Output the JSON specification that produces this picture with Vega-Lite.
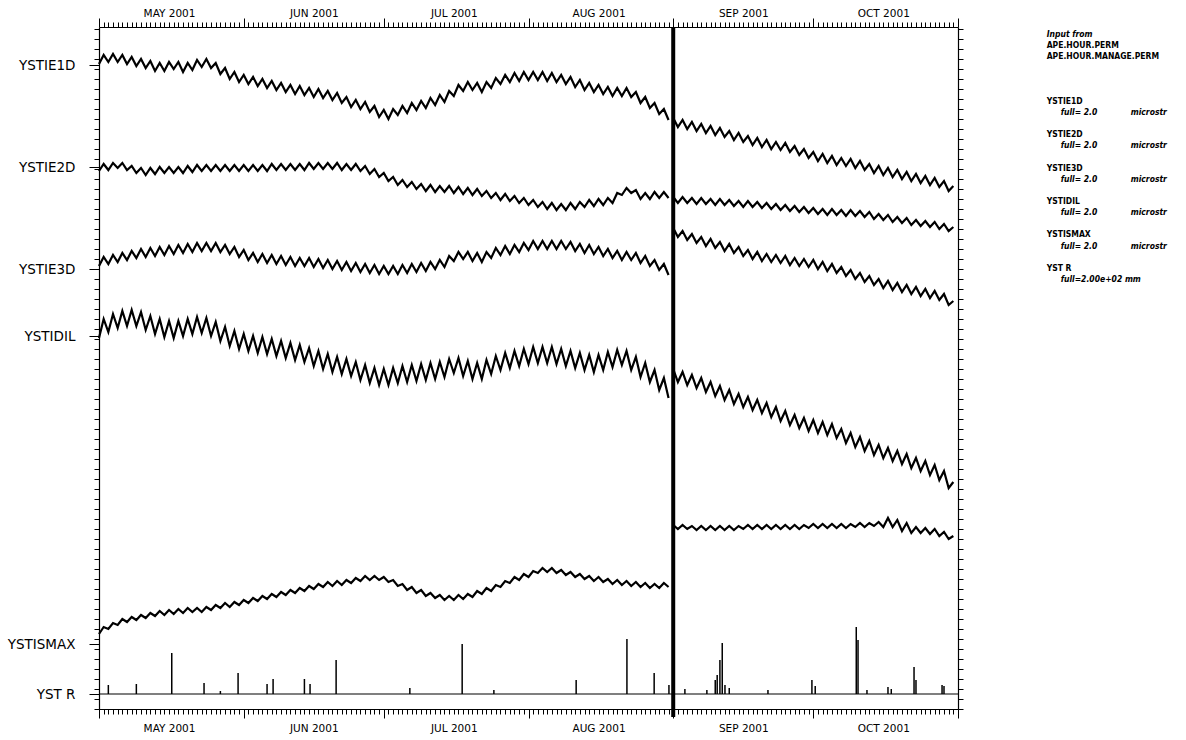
{
"$schema":"https://vega.github.io/schema/vega-lite/v6.json",
"width":859,"height":682,
"autosize":{"type":"none"},
"padding":{"left":99,"top":27,"right":228,"bottom":31},
"background":"white",
"data":{"values":[{}]},
"config":{"view":{"stroke":null},"axis":{"domainColor":"black","tickColor":"black","labelColor":"black","grid":false,"title":null,"labelFont":"DejaVu Sans","domainWidth":1.2,"tickWidth":1},
"text":{"font":"'DejaVu Sans Condensed', 'Liberation Sans Narrow', 'DejaVu Sans'","fontSize":8.5,"fontWeight":"bold","align":"left","baseline":"alphabetic","color":"black","lineHeight":11.13}},
"datasets":{
"tr":[
{"t":"2001/05/01","g":"L","a":64.5,"b":53.8,"c":44.3,"d":37.1,"e":7.5},
{"t":"2001/05/02","g":"L","a":65.4,"b":54.5,"c":45.2,"d":39.0,"e":8.2},
{"t":"2001/05/03","g":"L","a":64.7,"b":53.9,"c":44.5,"d":37.7,"e":8.0},
{"t":"2001/05/04","g":"L","a":65.5,"b":54.6,"c":45.4,"d":39.5,"e":8.6},
{"t":"2001/05/05","g":"L","a":64.7,"b":54.1,"c":44.7,"d":38.1,"e":8.4},
{"t":"2001/05/06","g":"L","a":65.4,"b":54.6,"c":45.6,"d":39.8,"e":9.0},
{"t":"2001/05/07","g":"L","a":64.5,"b":53.9,"c":44.9,"d":38.3,"e":8.7},
{"t":"2001/05/08","g":"L","a":65.2,"b":54.3,"c":45.8,"d":39.9,"e":9.2},
{"t":"2001/05/09","g":"L","a":64.3,"b":53.6,"c":45.1,"d":38.3,"e":8.9},
{"t":"2001/05/10","g":"L","a":65.0,"b":54.1,"c":46.0,"d":39.7,"e":9.4},
{"t":"2001/05/11","g":"L","a":64.1,"b":53.4,"c":45.2,"d":37.9,"e":9.1},
{"t":"2001/05/12","g":"L","a":64.8,"b":54.1,"c":46.1,"d":39.3,"e":9.6},
{"t":"2001/05/13","g":"L","a":63.8,"b":53.5,"c":45.3,"d":37.5,"e":9.3},
{"t":"2001/05/14","g":"L","a":64.6,"b":54.2,"c":46.2,"d":39.0,"e":9.8},
{"t":"2001/05/15","g":"L","a":63.8,"b":53.6,"c":45.4,"d":37.2,"e":9.4},
{"t":"2001/05/16","g":"L","a":64.7,"b":54.2,"c":46.3,"d":38.8,"e":9.9},
{"t":"2001/05/17","g":"L","a":64.0,"b":53.6,"c":45.5,"d":37.1,"e":9.5},
{"t":"2001/05/18","g":"L","a":64.7,"b":54.2,"c":46.4,"d":38.8,"e":10.0},
{"t":"2001/05/19","g":"L","a":63.7,"b":53.6,"c":45.6,"d":37.3,"e":9.6},
{"t":"2001/05/20","g":"L","a":64.6,"b":54.3,"c":46.5,"d":39.0,"e":10.1},
{"t":"2001/05/21","g":"L","a":63.9,"b":53.7,"c":45.7,"d":37.5,"e":9.7},
{"t":"2001/05/22","g":"L","a":64.9,"b":54.4,"c":46.6,"d":39.2,"e":10.1},
{"t":"2001/05/23","g":"L","a":64.2,"b":53.8,"c":45.8,"d":37.6,"e":9.7},
{"t":"2001/05/24","g":"L","a":65.0,"b":54.4,"c":46.6,"d":39.1,"e":10.2},
{"t":"2001/05/25","g":"L","a":64.1,"b":53.8,"c":45.8,"d":37.3,"e":9.9},
{"t":"2001/05/26","g":"L","a":64.6,"b":54.4,"c":46.6,"d":38.7,"e":10.4},
{"t":"2001/05/27","g":"L","a":63.5,"b":53.8,"c":45.7,"d":36.8,"e":10.1},
{"t":"2001/05/28","g":"L","a":64.1,"b":54.4,"c":46.4,"d":38.2,"e":10.6},
{"t":"2001/05/29","g":"L","a":63.0,"b":53.8,"c":45.5,"d":36.3,"e":10.2},
{"t":"2001/05/30","g":"L","a":63.7,"b":54.4,"c":46.2,"d":37.8,"e":10.7},
{"t":"2001/05/31","g":"L","a":62.7,"b":53.8,"c":45.2,"d":36.0,"e":10.4},
{"t":"2001/06/01","g":"L","a":63.4,"b":54.4,"c":45.9,"d":37.5,"e":10.9},
{"t":"2001/06/02","g":"L","a":62.5,"b":53.8,"c":44.9,"d":35.8,"e":10.6},
{"t":"2001/06/03","g":"L","a":63.2,"b":54.4,"c":45.6,"d":37.3,"e":11.1},
{"t":"2001/06/04","g":"L","a":62.3,"b":53.8,"c":44.7,"d":35.6,"e":10.8},
{"t":"2001/06/05","g":"L","a":63.0,"b":54.4,"c":45.5,"d":37.2,"e":11.3},
{"t":"2001/06/06","g":"L","a":62.1,"b":53.8,"c":44.6,"d":35.5,"e":11.0},
{"t":"2001/06/07","g":"L","a":62.8,"b":54.5,"c":45.4,"d":37.0,"e":11.5},
{"t":"2001/06/08","g":"L","a":61.9,"b":53.9,"c":44.5,"d":35.3,"e":11.2},
{"t":"2001/06/09","g":"L","a":62.6,"b":54.5,"c":45.3,"d":36.8,"e":11.7},
{"t":"2001/06/10","g":"L","a":61.7,"b":53.9,"c":44.4,"d":35.1,"e":11.4},
{"t":"2001/06/11","g":"L","a":62.4,"b":54.5,"c":45.2,"d":36.6,"e":11.9},
{"t":"2001/06/12","g":"L","a":61.5,"b":53.9,"c":44.3,"d":34.9,"e":11.6},
{"t":"2001/06/13","g":"L","a":62.3,"b":54.5,"c":45.1,"d":36.4,"e":12.1},
{"t":"2001/06/14","g":"L","a":61.4,"b":53.9,"c":44.3,"d":34.7,"e":11.8},
{"t":"2001/06/15","g":"L","a":62.1,"b":54.6,"c":45.1,"d":36.1,"e":12.3},
{"t":"2001/06/16","g":"L","a":61.2,"b":54.0,"c":44.2,"d":34.3,"e":12.0},
{"t":"2001/06/17","g":"L","a":62.0,"b":54.6,"c":45.0,"d":35.8,"e":12.5},
{"t":"2001/06/18","g":"L","a":61.1,"b":54.0,"c":44.1,"d":34.0,"e":12.2},
{"t":"2001/06/19","g":"L","a":61.8,"b":54.6,"c":44.9,"d":35.5,"e":12.7},
{"t":"2001/06/20","g":"L","a":60.9,"b":54.0,"c":44.0,"d":33.7,"e":12.3},
{"t":"2001/06/21","g":"L","a":61.6,"b":54.6,"c":44.8,"d":35.2,"e":12.8},
{"t":"2001/06/22","g":"L","a":60.6,"b":53.9,"c":43.9,"d":33.5,"e":12.4},
{"t":"2001/06/23","g":"L","a":61.2,"b":54.5,"c":44.7,"d":35.0,"e":12.9},
{"t":"2001/06/24","g":"L","a":60.2,"b":53.9,"c":43.8,"d":33.3,"e":12.6},
{"t":"2001/06/25","g":"L","a":60.9,"b":54.5,"c":44.6,"d":34.7,"e":13.1},
{"t":"2001/06/26","g":"L","a":60.0,"b":53.8,"c":43.7,"d":32.9,"e":12.8},
{"t":"2001/06/27","g":"L","a":60.7,"b":54.3,"c":44.5,"d":34.4,"e":13.3},
{"t":"2001/06/28","g":"L","a":59.7,"b":53.5,"c":43.6,"d":32.6,"e":12.9},
{"t":"2001/06/29","g":"L","a":60.3,"b":54.0,"c":44.4,"d":34.1,"e":13.3},
{"t":"2001/06/30","g":"L","a":59.2,"b":53.2,"c":43.5,"d":32.4,"e":12.9},
{"t":"2001/07/01","g":"L","a":59.9,"b":53.6,"c":44.3,"d":34.0,"e":13.2},
{"t":"2001/07/02","g":"L","a":59.0,"b":52.8,"c":43.5,"d":32.4,"e":12.7},
{"t":"2001/07/03","g":"L","a":60.0,"b":53.2,"c":44.3,"d":34.1,"e":12.9},
{"t":"2001/07/04","g":"L","a":59.4,"b":52.4,"c":43.5,"d":32.6,"e":12.3},
{"t":"2001/07/05","g":"L","a":60.3,"b":52.9,"c":44.4,"d":34.3,"e":12.5},
{"t":"2001/07/06","g":"L","a":59.6,"b":52.2,"c":43.6,"d":32.7,"e":11.9},
{"t":"2001/07/07","g":"L","a":60.6,"b":52.7,"c":44.5,"d":34.4,"e":12.2},
{"t":"2001/07/08","g":"L","a":59.9,"b":52.0,"c":43.7,"d":32.8,"e":11.6},
{"t":"2001/07/09","g":"L","a":60.8,"b":52.5,"c":44.6,"d":34.5,"e":11.9},
{"t":"2001/07/10","g":"L","a":60.1,"b":51.8,"c":43.8,"d":32.9,"e":11.3},
{"t":"2001/07/11","g":"L","a":61.1,"b":52.4,"c":44.7,"d":34.6,"e":11.6},
{"t":"2001/07/12","g":"L","a":60.4,"b":51.7,"c":44.0,"d":33.0,"e":11.1},
{"t":"2001/07/13","g":"L","a":61.4,"b":52.3,"c":44.9,"d":34.7,"e":11.4},
{"t":"2001/07/14","g":"L","a":60.7,"b":51.7,"c":44.2,"d":33.2,"e":10.9},
{"t":"2001/07/15","g":"L","a":61.8,"b":52.3,"c":45.3,"d":35.0,"e":11.3},
{"t":"2001/07/16","g":"L","a":61.3,"b":51.6,"c":44.8,"d":33.6,"e":10.9},
{"t":"2001/07/17","g":"L","a":62.4,"b":52.2,"c":45.7,"d":35.1,"e":11.4},
{"t":"2001/07/18","g":"L","a":61.8,"b":51.5,"c":45.0,"d":33.3,"e":11.0},
{"t":"2001/07/19","g":"L","a":62.7,"b":52.1,"c":45.7,"d":34.8,"e":11.5},
{"t":"2001/07/20","g":"L","a":61.9,"b":51.4,"c":44.8,"d":33.0,"e":11.2},
{"t":"2001/07/21","g":"L","a":62.6,"b":52.0,"c":45.6,"d":34.6,"e":11.8},
{"t":"2001/07/22","g":"L","a":61.7,"b":51.3,"c":44.7,"d":33.0,"e":11.5},
{"t":"2001/07/23","g":"L","a":62.7,"b":51.8,"c":45.7,"d":34.9,"e":12.1},
{"t":"2001/07/24","g":"L","a":62.1,"b":51.1,"c":45.1,"d":33.5,"e":11.8},
{"t":"2001/07/25","g":"L","a":63.1,"b":51.6,"c":46.1,"d":35.3,"e":12.4},
{"t":"2001/07/26","g":"L","a":62.5,"b":50.9,"c":45.4,"d":33.9,"e":12.2},
{"t":"2001/07/27","g":"L","a":63.4,"b":51.5,"c":46.3,"d":35.6,"e":12.8},
{"t":"2001/07/28","g":"L","a":62.7,"b":50.8,"c":45.5,"d":34.1,"e":12.6},
{"t":"2001/07/29","g":"L","a":63.6,"b":51.3,"c":46.4,"d":35.8,"e":13.2},
{"t":"2001/07/30","g":"L","a":62.8,"b":50.6,"c":45.7,"d":34.3,"e":12.9},
{"t":"2001/07/31","g":"L","a":63.7,"b":51.1,"c":46.6,"d":36.0,"e":13.5},
{"t":"2001/08/01","g":"L","a":62.9,"b":50.4,"c":45.9,"d":34.5,"e":13.2},
{"t":"2001/08/02","g":"L","a":63.7,"b":50.9,"c":46.8,"d":36.2,"e":13.8},
{"t":"2001/08/03","g":"L","a":62.9,"b":50.2,"c":46.0,"d":34.6,"e":13.6},
{"t":"2001/08/04","g":"L","a":63.7,"b":50.7,"c":46.8,"d":36.2,"e":14.1},
{"t":"2001/08/05","g":"L","a":62.8,"b":50.0,"c":46.0,"d":34.6,"e":13.7},
{"t":"2001/08/06","g":"L","a":63.6,"b":50.6,"c":46.8,"d":36.2,"e":14.1},
{"t":"2001/08/07","g":"L","a":62.7,"b":49.9,"c":46.0,"d":34.5,"e":13.6},
{"t":"2001/08/08","g":"L","a":63.4,"b":50.5,"c":46.8,"d":36.0,"e":13.9},
{"t":"2001/08/09","g":"L","a":62.5,"b":49.9,"c":46.0,"d":34.3,"e":13.4},
{"t":"2001/08/10","g":"L","a":63.2,"b":50.6,"c":46.7,"d":35.8,"e":13.7},
{"t":"2001/08/11","g":"L","a":62.2,"b":50.0,"c":45.8,"d":34.1,"e":13.2},
{"t":"2001/08/12","g":"L","a":62.9,"b":50.7,"c":46.5,"d":35.6,"e":13.5},
{"t":"2001/08/13","g":"L","a":61.9,"b":50.2,"c":45.6,"d":33.9,"e":13.0},
{"t":"2001/08/14","g":"L","a":62.6,"b":50.9,"c":46.4,"d":35.4,"e":13.3},
{"t":"2001/08/15","g":"L","a":61.7,"b":50.3,"c":45.5,"d":33.7,"e":12.8},
{"t":"2001/08/16","g":"L","a":62.4,"b":51.0,"c":46.2,"d":35.4,"e":13.2},
{"t":"2001/08/17","g":"L","a":61.5,"b":50.4,"c":45.3,"d":33.9,"e":12.7},
{"t":"2001/08/18","g":"L","a":62.2,"b":51.1,"c":46.0,"d":35.7,"e":13.0},
{"t":"2001/08/19","g":"L","a":61.3,"b":50.6,"c":45.1,"d":34.2,"e":12.5},
{"t":"2001/08/20","g":"L","a":62.1,"b":51.6,"c":45.8,"d":35.9,"e":12.9},
{"t":"2001/08/21","g":"L","a":61.3,"b":51.4,"c":44.9,"d":34.4,"e":12.4},
{"t":"2001/08/22","g":"L","a":62.1,"b":52.1,"c":45.7,"d":35.8,"e":12.8},
{"t":"2001/08/23","g":"L","a":61.2,"b":51.6,"c":44.9,"d":33.9,"e":12.3},
{"t":"2001/08/24","g":"L","a":61.7,"b":51.9,"c":45.6,"d":35.2,"e":12.7},
{"t":"2001/08/25","g":"L","a":60.6,"b":51.0,"c":44.6,"d":33.2,"e":12.2},
{"t":"2001/08/26","g":"L","a":61.2,"b":51.6,"c":45.3,"d":34.6,"e":12.6},
{"t":"2001/08/27","g":"L","a":60.1,"b":51.0,"c":44.3,"d":32.7,"e":12.1},
{"t":"2001/08/28","g":"L","a":60.6,"b":51.7,"c":44.9,"d":33.9,"e":12.5},
{"t":"2001/08/29","g":"L","a":59.5,"b":51.1,"c":43.9,"d":31.9,"e":12.1},
{"t":"2001/08/30","g":"L","a":60.0,"b":51.7,"c":44.5,"d":33.1,"e":12.6},
{"t":"2001/08/31","g":"L","a":58.9,"b":51.1,"c":43.4,"d":31.1,"e":12.2},
{"t":"2001/09/01","g":"R","a":59.1,"b":51.2,"c":48.1,"d":34.0,"e":18.4},
{"t":"2001/09/02","g":"R","a":58.2,"b":50.6,"c":47.2,"d":32.7,"e":18.0},
{"t":"2001/09/03","g":"R","a":58.9,"b":51.2,"c":47.8,"d":33.7,"e":18.4},
{"t":"2001/09/04","g":"R","a":58.0,"b":50.6,"c":46.9,"d":32.4,"e":18.0},
{"t":"2001/09/05","g":"R","a":58.7,"b":51.1,"c":47.5,"d":33.4,"e":18.3},
{"t":"2001/09/06","g":"R","a":57.8,"b":50.5,"c":46.6,"d":32.1,"e":17.9},
{"t":"2001/09/07","g":"R","a":58.5,"b":51.1,"c":47.2,"d":33.1,"e":18.3},
{"t":"2001/09/08","g":"R","a":57.6,"b":50.5,"c":46.3,"d":31.7,"e":17.9},
{"t":"2001/09/09","g":"R","a":58.3,"b":51.0,"c":47.0,"d":32.7,"e":18.3},
{"t":"2001/09/10","g":"R","a":57.4,"b":50.4,"c":46.1,"d":31.3,"e":17.9},
{"t":"2001/09/11","g":"R","a":58.1,"b":51.0,"c":46.7,"d":32.3,"e":18.3},
{"t":"2001/09/12","g":"R","a":57.2,"b":50.4,"c":45.8,"d":30.9,"e":17.9},
{"t":"2001/09/13","g":"R","a":57.8,"b":50.9,"c":46.5,"d":31.9,"e":18.3},
{"t":"2001/09/14","g":"R","a":56.9,"b":50.3,"c":45.6,"d":30.5,"e":17.9},
{"t":"2001/09/15","g":"R","a":57.6,"b":50.8,"c":46.2,"d":31.5,"e":18.3},
{"t":"2001/09/16","g":"R","a":56.7,"b":50.2,"c":45.3,"d":30.2,"e":18.0},
{"t":"2001/09/17","g":"R","a":57.3,"b":50.8,"c":45.9,"d":31.2,"e":18.4},
{"t":"2001/09/18","g":"R","a":56.4,"b":50.2,"c":45.0,"d":29.9,"e":18.0},
{"t":"2001/09/19","g":"R","a":57.1,"b":50.7,"c":45.7,"d":30.9,"e":18.4},
{"t":"2001/09/20","g":"R","a":56.2,"b":50.1,"c":44.8,"d":29.6,"e":18.0},
{"t":"2001/09/21","g":"R","a":56.9,"b":50.6,"c":45.5,"d":30.6,"e":18.4},
{"t":"2001/09/22","g":"R","a":56.0,"b":50.0,"c":44.7,"d":29.2,"e":18.0},
{"t":"2001/09/23","g":"R","a":56.7,"b":50.5,"c":45.4,"d":30.2,"e":18.4},
{"t":"2001/09/24","g":"R","a":55.9,"b":49.9,"c":44.6,"d":28.8,"e":18.0},
{"t":"2001/09/25","g":"R","a":56.6,"b":50.4,"c":45.3,"d":29.8,"e":18.4},
{"t":"2001/09/26","g":"R","a":55.7,"b":49.8,"c":44.4,"d":28.4,"e":18.0},
{"t":"2001/09/27","g":"R","a":56.3,"b":50.3,"c":45.1,"d":29.4,"e":18.4},
{"t":"2001/09/28","g":"R","a":55.4,"b":49.7,"c":44.3,"d":28.1,"e":18.0},
{"t":"2001/09/29","g":"R","a":56.0,"b":50.2,"c":45.0,"d":29.1,"e":18.4},
{"t":"2001/09/30","g":"R","a":55.1,"b":49.6,"c":44.2,"d":27.8,"e":18.1},
{"t":"2001/10/01","g":"R","a":55.7,"b":50.1,"c":44.9,"d":28.9,"e":18.5},
{"t":"2001/10/02","g":"R","a":54.8,"b":49.5,"c":44.0,"d":27.6,"e":18.1},
{"t":"2001/10/03","g":"R","a":55.5,"b":50.0,"c":44.7,"d":28.7,"e":18.5},
{"t":"2001/10/04","g":"R","a":54.6,"b":49.4,"c":43.8,"d":27.4,"e":18.1},
{"t":"2001/10/05","g":"R","a":55.3,"b":50.0,"c":44.5,"d":28.5,"e":18.5},
{"t":"2001/10/06","g":"R","a":54.4,"b":49.4,"c":43.6,"d":27.1,"e":18.1},
{"t":"2001/10/07","g":"R","a":55.1,"b":49.9,"c":44.2,"d":28.0,"e":18.5},
{"t":"2001/10/08","g":"R","a":54.3,"b":49.3,"c":43.3,"d":26.6,"e":18.1},
{"t":"2001/10/09","g":"R","a":55.0,"b":49.9,"c":43.9,"d":27.6,"e":18.5},
{"t":"2001/10/10","g":"R","a":54.1,"b":49.3,"c":43.0,"d":26.2,"e":18.2},
{"t":"2001/10/11","g":"R","a":54.8,"b":49.8,"c":43.6,"d":27.2,"e":18.6},
{"t":"2001/10/12","g":"R","a":53.9,"b":49.2,"c":42.7,"d":25.8,"e":18.2},
{"t":"2001/10/13","g":"R","a":54.5,"b":49.7,"c":43.3,"d":26.8,"e":18.6},
{"t":"2001/10/14","g":"R","a":53.6,"b":49.0,"c":42.4,"d":25.4,"e":18.3},
{"t":"2001/10/15","g":"R","a":54.3,"b":49.5,"c":43.0,"d":26.4,"e":18.7},
{"t":"2001/10/16","g":"R","a":53.4,"b":48.9,"c":42.1,"d":25.1,"e":18.2},
{"t":"2001/10/17","g":"R","a":54.1,"b":49.4,"c":42.8,"d":26.1,"e":19.1},
{"t":"2001/10/18","g":"R","a":53.2,"b":48.7,"c":41.9,"d":24.8,"e":18.2},
{"t":"2001/10/19","g":"R","a":53.9,"b":49.2,"c":42.6,"d":25.8,"e":18.9},
{"t":"2001/10/20","g":"R","a":53.0,"b":48.6,"c":41.7,"d":24.5,"e":17.8},
{"t":"2001/10/21","g":"R","a":53.7,"b":49.1,"c":42.4,"d":25.5,"e":18.6},
{"t":"2001/10/22","g":"R","a":52.8,"b":48.4,"c":41.5,"d":24.1,"e":17.6},
{"t":"2001/10/23","g":"R","a":53.5,"b":48.9,"c":42.2,"d":25.1,"e":18.2},
{"t":"2001/10/24","g":"R","a":52.6,"b":48.3,"c":41.3,"d":23.8,"e":17.6},
{"t":"2001/10/25","g":"R","a":53.3,"b":48.8,"c":42.0,"d":24.8,"e":18.1},
{"t":"2001/10/26","g":"R","a":52.4,"b":48.2,"c":41.1,"d":23.4,"e":17.5},
{"t":"2001/10/27","g":"R","a":53.1,"b":48.7,"c":41.8,"d":24.4,"e":18.0},
{"t":"2001/10/28","g":"R","a":52.2,"b":48.0,"c":40.9,"d":22.9,"e":17.3},
{"t":"2001/10/29","g":"R","a":52.8,"b":48.5,"c":41.5,"d":23.8,"e":17.7},
{"t":"2001/10/30","g":"R","a":51.8,"b":47.8,"c":40.4,"d":22.1,"e":17.0},
{"t":"2001/10/31","g":"R","a":52.3,"b":48.2,"c":40.8,"d":22.7,"e":17.3}
],
"rain":[
{"t":"2001/05/03 00:00","r":2.4},{"t":"2001/05/09 00:00","r":2.5},{"t":"2001/05/16 14:00","r":5.6},{"t":"2001/05/23 12:00","r":2.6},
{"t":"2001/05/27 00:00","r":1.8},{"t":"2001/05/30 19:00","r":3.6},{"t":"2001/06/06 00:00","r":2.5},{"t":"2001/06/07 07:00","r":3.0},
{"t":"2001/06/14 00:00","r":3.0},{"t":"2001/06/15 05:00","r":2.5},{"t":"2001/06/20 19:00","r":4.9},{"t":"2001/07/06 14:00","r":2.1},
{"t":"2001/07/17 19:00","r":6.5},{"t":"2001/07/24 14:00","r":1.9},{"t":"2001/08/11 05:00","r":2.9},{"t":"2001/08/22 02:00","r":7.0},
{"t":"2001/08/27 22:00","r":3.6},{"t":"2001/08/31 02:00","r":2.4},{"t":"2001/09/03 12:00","r":2.0},{"t":"2001/09/08 05:00","r":1.9},
{"t":"2001/09/10 00:00","r":2.9},{"t":"2001/09/10 10:00","r":3.4},{"t":"2001/09/11 00:00","r":4.9},{"t":"2001/09/11 12:00","r":6.6},
{"t":"2001/09/12 02:00","r":2.4},{"t":"2001/09/13 00:00","r":2.1},{"t":"2001/09/21 07:00","r":1.9},{"t":"2001/09/30 17:00","r":2.9},
{"t":"2001/10/01 10:00","r":2.3},{"t":"2001/10/10 05:00","r":8.2},{"t":"2001/10/10 14:00","r":6.9},{"t":"2001/10/12 12:00","r":1.9},
{"t":"2001/10/17 00:00","r":2.2},{"t":"2001/10/17 17:00","r":2.0},{"t":"2001/10/22 14:00","r":4.2},{"t":"2001/10/23 00:00","r":2.9},
{"t":"2001/10/28 14:00","r":2.4},{"t":"2001/10/29 00:00","r":2.3}
]
},
"resolve":{"axis":{"x":"independent","y":"independent"}},
"layer":[
{
"data":{"name":"tr"},
"transform":[{"fold":["a","b","c","d","e"],"as":["k","v"]}],
"mark":{"type":"line","color":"black","strokeWidth":2.2},
"encoding":{
"x":{"field":"t","type":"temporal","scale":{"domain":[{"year":2001,"month":5,"date":1},{"year":2001,"month":11,"date":1}]},
"axis":{"orient":"bottom","tickCount":{"interval":"day","step":1},"labelExpr":"date(datum.value)==16 ? upper(timeFormat(datum.value,'%b %Y')) : ''","labelOverlap":false,"labelFlush":false,"labelAngle":0,"labelFontSize":10.5,"labelPadding":9,"tickSize":{"condition":{"test":"date(datum.value)==1","value":9},"value":5}}},
"y":{"field":"v","type":"quantitative","scale":{"domain":[0,68.2],"nice":false,"zero":false},
"axis":{"orient":"left","values":[0,1,1.5,2,3,4,5,6,6.5,7,8,9,10,11,12,13,14,15,16,17,18,19,20,21,22,23,24,25,26,27,28,29,30,31,32,33,34,35,36,37,37.3,38,39,40,41,42,43,44,45,46,47,48,49,50,51,52,53,54,54.2,55,56,57,58,59,60,61,62,63,64,64.4,65,66,67,68],
"labelExpr":"datum.value==64.4?'YSTIE1D':datum.value==54.2?'YSTIE2D':datum.value==44?'YSTIE3D':datum.value==37.3?'YSTIDIL':datum.value==6.5?'YSTISMAX':datum.value==1.5?'YST R':''",
"labelFontSize":13.5,"labelPadding":14,"labelOverlap":false,"labelFlush":false,
"tickSize":{"condition":{"test":"indexof([64.4,54.2,44,37.3,6.5,1.5],datum.value)>=0","value":10},"value":5}}},
"detail":[{"field":"k"},{"field":"g"}]
}
},
{
"data":{"name":"rain"},
"mark":{"type":"rule","color":"black","strokeWidth":1.5},
"encoding":{
"x":{"field":"t","type":"temporal",
"axis":{"orient":"top","tickCount":{"interval":"day","step":1},"labelExpr":"date(datum.value)==16 ? upper(timeFormat(datum.value,'%b %Y')) : ''","labelOverlap":false,"labelFlush":false,"labelAngle":0,"labelFontSize":10.5,"labelPadding":4,"tickSize":{"condition":{"test":"date(datum.value)==1","value":9},"value":5}}},
"y":{"field":"r","type":"quantitative",
"axis":{"orient":"right","values":[0,1,2,3,4,5,6,7,8,9,10,11,12,13,14,15,16,17,18,19,20,21,22,23,24,25,26,27,28,29,30,31,32,33,34,35,36,37,38,39,40,41,42,43,44,45,46,47,48,49,50,51,52,53,54,55,56,57,58,59,60,61,62,63,64,65,66,67,68],"labels":false,"tickSize":5}},
"y2":{"datum":1.5}
}
},
{"mark":{"type":"rule","color":"black","strokeWidth":1.2},
"encoding":{"y":{"datum":1.5,"type":"quantitative","axis":null}}},
{"mark":{"type":"rule","color":"black","strokeWidth":4},
"encoding":{"x":{"datum":{"year":2001,"month":9,"date":1},"type":"temporal","axis":null},
"y":{"datum":-0.8,"type":"quantitative","axis":null},"y2":{"datum":68.2}}},
{"mark":{"type":"text","fontStyle":"italic","text":"Input from"},
"encoding":{"x":{"datum":{"year":2001,"month":11,"date":20},"type":"temporal","axis":null},"y":{"datum":67.2,"type":"quantitative","axis":null}}},
{"mark":{"type":"text","text":["APE.HOUR.PERM","APE.HOUR.MANAGE.PERM"]},
"encoding":{"x":{"datum":{"year":2001,"month":11,"date":20},"type":"temporal","axis":null},"y":{"datum":66.1,"type":"quantitative","axis":null}}},
{"mark":{"type":"text","text":"YSTIE1D"},
"encoding":{"x":{"datum":{"year":2001,"month":11,"date":20},"type":"temporal","axis":null},"y":{"datum":60.5,"type":"quantitative","axis":null}}},
{"mark":{"type":"text","text":"YSTIE2D"},
"encoding":{"x":{"datum":{"year":2001,"month":11,"date":20},"type":"temporal","axis":null},"y":{"datum":57.2,"type":"quantitative","axis":null}}},
{"mark":{"type":"text","text":"YSTIE3D"},
"encoding":{"x":{"datum":{"year":2001,"month":11,"date":20},"type":"temporal","axis":null},"y":{"datum":53.8,"type":"quantitative","axis":null}}},
{"mark":{"type":"text","text":"YSTIDIL"},
"encoding":{"x":{"datum":{"year":2001,"month":11,"date":20},"type":"temporal","axis":null},"y":{"datum":50.5,"type":"quantitative","axis":null}}},
{"mark":{"type":"text","text":"YSTISMAX"},
"encoding":{"x":{"datum":{"year":2001,"month":11,"date":20},"type":"temporal","axis":null},"y":{"datum":47.2,"type":"quantitative","axis":null}}},
{"mark":{"type":"text","text":"YST R"},
"encoding":{"x":{"datum":{"year":2001,"month":11,"date":20},"type":"temporal","axis":null},"y":{"datum":43.8,"type":"quantitative","axis":null}}},
{"mark":{"type":"text","fontStyle":"italic","text":"full= 2.0"},
"encoding":{"x":{"datum":{"year":2001,"month":11,"date":23},"type":"temporal","axis":null},"y":{"datum":59.4,"type":"quantitative","axis":null}}},
{"mark":{"type":"text","fontStyle":"italic","text":"full= 2.0"},
"encoding":{"x":{"datum":{"year":2001,"month":11,"date":23},"type":"temporal","axis":null},"y":{"datum":56.1,"type":"quantitative","axis":null}}},
{"mark":{"type":"text","fontStyle":"italic","text":"full= 2.0"},
"encoding":{"x":{"datum":{"year":2001,"month":11,"date":23},"type":"temporal","axis":null},"y":{"datum":52.7,"type":"quantitative","axis":null}}},
{"mark":{"type":"text","fontStyle":"italic","text":"full= 2.0"},
"encoding":{"x":{"datum":{"year":2001,"month":11,"date":23},"type":"temporal","axis":null},"y":{"datum":49.4,"type":"quantitative","axis":null}}},
{"mark":{"type":"text","fontStyle":"italic","text":"full= 2.0"},
"encoding":{"x":{"datum":{"year":2001,"month":11,"date":23},"type":"temporal","axis":null},"y":{"datum":46.0,"type":"quantitative","axis":null}}},
{"mark":{"type":"text","fontStyle":"italic","text":"full=2.00e+02 mm"},
"encoding":{"x":{"datum":{"year":2001,"month":11,"date":23},"type":"temporal","axis":null},"y":{"datum":42.7,"type":"quantitative","axis":null}}},
{"mark":{"type":"text","fontStyle":"italic","text":"microstr"},
"encoding":{"x":{"datum":{"year":2001,"month":12,"date":8},"type":"temporal","axis":null},"y":{"datum":59.4,"type":"quantitative","axis":null}}},
{"mark":{"type":"text","fontStyle":"italic","text":"microstr"},
"encoding":{"x":{"datum":{"year":2001,"month":12,"date":8},"type":"temporal","axis":null},"y":{"datum":56.1,"type":"quantitative","axis":null}}},
{"mark":{"type":"text","fontStyle":"italic","text":"microstr"},
"encoding":{"x":{"datum":{"year":2001,"month":12,"date":8},"type":"temporal","axis":null},"y":{"datum":52.7,"type":"quantitative","axis":null}}},
{"mark":{"type":"text","fontStyle":"italic","text":"microstr"},
"encoding":{"x":{"datum":{"year":2001,"month":12,"date":8},"type":"temporal","axis":null},"y":{"datum":49.4,"type":"quantitative","axis":null}}},
{"mark":{"type":"text","fontStyle":"italic","text":"microstr"},
"encoding":{"x":{"datum":{"year":2001,"month":12,"date":8},"type":"temporal","axis":null},"y":{"datum":46.0,"type":"quantitative","axis":null}}}
]
}
